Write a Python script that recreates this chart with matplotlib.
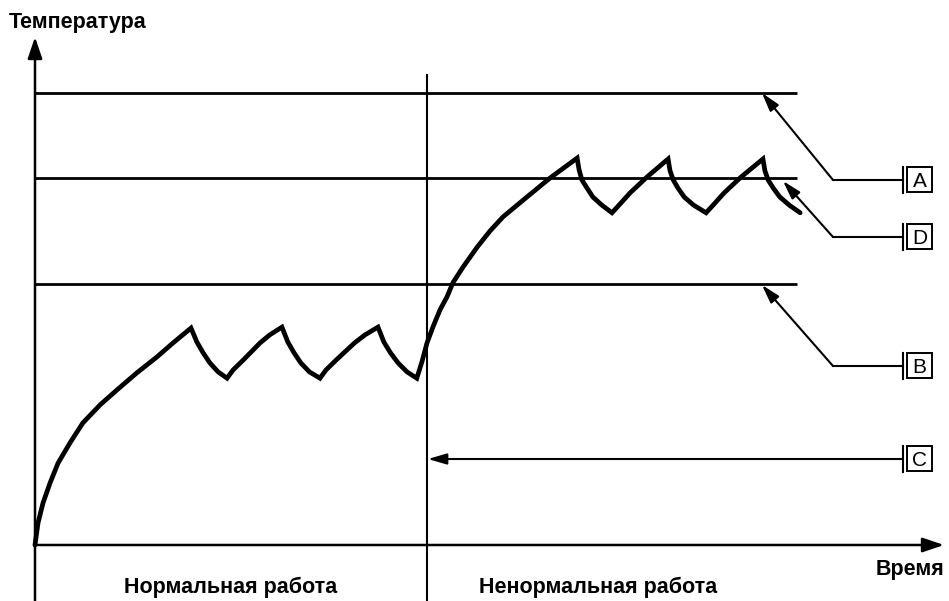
import matplotlib
matplotlib.use("Agg")
import matplotlib.pyplot as plt
from matplotlib.patches import Rectangle

plt.rcParams['font.family'] = ['Liberation Sans', 'DejaVu Sans']

# time (0..100 normal, 100..195 abnormal) / temperature (A limit = 100)
time = [0, 0.77, 2.04, 3.83, 5.87, 8.93, 12.2, 16.6, 20.9, 26.0, 31.1, 35.2, 39.8,
        41.3, 42.9, 44.6, 46.7, 49.0,
        50.5, 53.1, 57.4, 59.9, 63.0,
        64.5, 66.1, 67.8, 70.0, 72.7,
        74.2, 76.8, 81.5, 84.2, 87.5,
        89.0, 90.7, 92.6, 94.9, 97.4,
        98.7, 100.0, 101.5, 103.3, 105.1, 106.6, 109.2, 112.8, 116.1, 119.4,
        125.5, 131.4, 138.3,
        138.8, 139.5, 140.8, 142.3, 144.6, 147.2,
        149.2, 151.8, 156.1, 161.5,
        162.0, 162.8, 164.0, 165.6, 168.0, 171.2,
        173.2, 175.8, 180.1, 185.7,
        186.2, 187.0, 188.3, 190.0, 192.4, 195.2]
temp = [0, 4.87, 9.29, 13.7, 18.1, 22.6, 27.0, 31.0, 34.3, 38.1, 41.6, 44.7, 48.0,
        44.9, 42.5, 40.3, 38.3, 36.9,
        38.7, 40.9, 44.7, 46.5, 48.2,
        44.9, 42.5, 40.3, 38.3, 36.9,
        38.7, 40.9, 44.7, 46.5, 48.2,
        44.9, 42.5, 40.3, 38.3, 36.9,
        40.5, 44.7, 48.2, 52.0, 54.9, 58.0, 61.5, 65.9, 69.5, 72.6,
        77.0, 81.2, 85.6,
        83.0, 80.8, 79.0, 77.0, 75.2, 73.5,
        75.4, 77.9, 81.4, 85.4,
        82.8, 80.8, 79.0, 77.0, 75.2, 73.5,
        75.4, 77.9, 81.4, 85.4,
        82.8, 80.8, 79.0, 77.0, 75.2, 73.5]

level_names = ["A", "D", "B"]
level_values = [100, 81.2, 57.7]
level_end = 194.4
switch_time = 100
phase_labels = ["Нормальная работа", "Ненормальная работа"]
x_title = "Время"
y_title = "Температура"

W, H = 949, 601
x0, y0, sx, sy = 35, 545, 3.92, 4.52


def px(x, y):
    # pixel position -> data coordinates (layout helper)
    return (x - x0) / sx, (y0 - y) / sy


fig = plt.figure(figsize=(W / 100, H / 100), dpi=100)
ax = fig.add_axes([0, 0, 1, 1])
ax.set_xlim(px(0, 0)[0], px(W, 0)[0])
ax.set_ylim(px(0, H)[1], px(0, 0)[1])
ax.axis("off")

# axes with arrows
axis_arrow = dict(arrowstyle="-|>,head_length=0.65,head_width=0.22",
                  lw=1.8, color="black", mutation_scale=20,
                  shrinkA=0, shrinkB=0)
ax.annotate("", xy=px(944, 545), xytext=px(34, 545), arrowprops=axis_arrow)
ax.annotate("", xy=px(35, 37), xytext=px(35, 601), arrowprops=axis_arrow)

# levels
for v in level_values:
    ax.plot([0, level_end], [v, v], color="black", lw=2.0, solid_capstyle="butt")

# phase divider
ax.plot([switch_time, switch_time], [px(0, 75)[1], px(0, 601)[1]],
        color="black", lw=1.5)

# temperature curve
ax.plot(time, temp, color="black", lw=3.4, solid_joinstyle="miter",
        solid_capstyle="round")

# leaders and boxed labels
leader_arrow = dict(arrowstyle="-|>,head_length=0.75,head_width=0.22",
                    lw=1.5, color="black", mutation_scale=15,
                    shrinkA=0, shrinkB=0)
tips = {"A": (762, 93), "D": (783, 181), "B": (762, 285)}
rows = {"A": 180, "D": 237, "B": 366, "C": 459}
for name in ["A", "D", "B", "C"]:
    yy = rows[name]
    if name == "C":
        ax.annotate("", xy=px(428, yy), xytext=px(903, yy), arrowprops=leader_arrow)
    else:
        ax.plot(*zip(px(833, yy), px(903, yy)), color="black", lw=1.5)
        ax.annotate("", xy=px(*tips[name]), xytext=px(833, yy),
                    arrowprops=leader_arrow)
    ax.plot(*zip(px(903, yy - 13), px(903, yy + 13)), color="black", lw=1.5)
    bx, by = px(907, yy + 12)
    ax.add_patch(Rectangle((bx, by), 25 / sx, 25 / sy, fill=False,
                           ec="black", lw=1.4))
    ax.text(*px(919.5, yy + 1), name, ha="center", va="center",
            fontsize=15)

# texts
ax.text(*px(9, 22), y_title, ha="left", va="center", fontsize=15.5,
        fontweight="bold")
ax.text(*px(944, 570), x_title, ha="right", va="center", fontsize=15.5,
        fontweight="bold")
ax.text(*px(231, 587), phase_labels[0], ha="center", va="center",
        fontsize=15.5, fontweight="bold")
ax.text(*px(598, 587), phase_labels[1], ha="center", va="center",
        fontsize=15.5, fontweight="bold")

fig.savefig("out.png", dpi=100)
